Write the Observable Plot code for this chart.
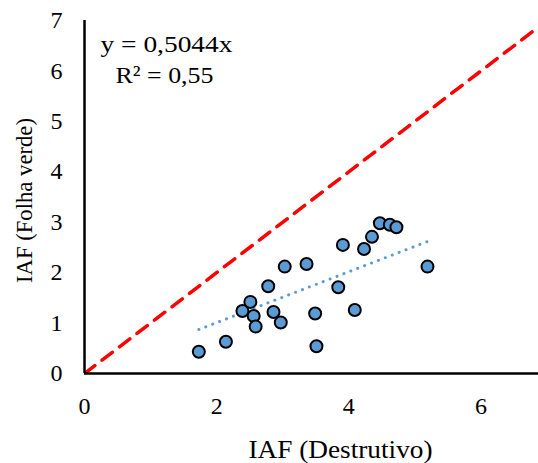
<!DOCTYPE html>
<html>
<head>
<meta charset="utf-8">
<script src="https://cdn.jsdelivr.net/npm/d3@7"></script>
<script src="https://cdn.jsdelivr.net/npm/@observablehq/plot@0.6"></script>
<style>
  html, body { margin: 0; padding: 0; background: #fff; overflow: hidden; }
  #chart svg { display: block; }
  #chart svg, #chart svg text { font-family: 'Liberation Serif', 'Times New Roman', serif !important; font-variant: normal !important; }
</style>
</head>
<body>
<div id="chart"></div>
<script>
// Data
const iafDestrutivo = [1.73, 2.14, 2.39, 2.51, 2.56, 2.59, 2.78, 2.86, 2.97, 3.03, 3.36, 3.49, 3.51, 3.84, 3.91, 4.09, 4.23, 4.35, 4.47, 4.62, 4.72, 5.19];
const iafFolhaVerde = [0.43, 0.63, 1.24, 1.42, 1.14, 0.93, 1.73, 1.22, 1.01, 2.12, 2.17, 1.19, 0.54, 1.71, 2.55, 1.26, 2.47, 2.71, 2.98, 2.95, 2.90, 2.12];
const trendSlope = 0.5044;
const equationLines = ["y = 0,5044x", "R² = 0,55"];
const xTicks = [0, 2, 4, 6];
const yTicks = [0, 1, 2, 3, 4, 5, 6, 7];
const xTitle = "IAF (Destrutivo)";
const yTitle = "IAF (Folha verde)";

const points = iafDestrutivo.map((x, i) => ({x, y: iafFolhaVerde[i]}));
const xMax = 6.87;
const [tx0, tx1] = d3.extent(iafDestrutivo);
const trend = [{x: tx0, y: trendSlope * tx0}, {x: tx1, y: trendSlope * tx1}];
const identity = [{x: 0, y: 0}, {x: xMax, y: xMax}];
const font = "'Liberation Serif', 'Times New Roman', serif";

const chart = Plot.plot({
  width: 538, height: 463, marginLeft: 84, marginRight: 0, marginTop: 20, marginBottom: 90,
  style: {fontFamily: font, color: "#000", background: "#fff", overflow: "visible"},
  x: {domain: [0, xMax], axis: null},
  y: {domain: [0, 7], axis: null},
  marks: [
    Plot.text(xTicks, {x: d => d, frameAnchor: "bottom", dy: 23, lineAnchor: "top", textAnchor: "middle", fontSize: 24, fontFamily: font, fill: "#000", text: d => String(d)}),
    Plot.text(yTicks, {y: d => d, frameAnchor: "left", dx: -22, lineAnchor: "middle", textAnchor: "end", fontSize: 24, fontFamily: font, fill: "#000", text: d => String(d)}),
    Plot.line(identity, {x: "x", y: "y", stroke: "#FF0000", strokeWidth: 3.5, strokeDasharray: "13,9", clip: true}),
    Plot.ruleY([0], {stroke: "#000", strokeWidth: 2.5}),
    Plot.ruleX([0], {y1: 0, y2: 7, stroke: "#000", strokeWidth: 2.5}),
    Plot.line(trend, {x: "x", y: "y", stroke: "#5B9BD5", strokeWidth: 3, strokeDasharray: "0.1,7.3", strokeLinecap: "round"}),
    Plot.dot(points, {x: "x", y: "y", r: 6, fill: "#5B9BD5", stroke: "#000", strokeWidth: 2}),
    Plot.text([equationLines[0]], {frameAnchor: "top-left", dx: 82, dy: 14, fontSize: 24, fontFamily: font, textAnchor: "middle", fill: "#000", className: "lab-eq1"}),
    Plot.text([equationLines[1]], {frameAnchor: "top-left", dx: 80, dy: 45, fontSize: 24, fontFamily: font, textAnchor: "middle", fill: "#000", className: "lab-eq2"}),
    Plot.text([xTitle], {frameAnchor: "bottom", dx: 29, dy: 84, fontSize: 25, fontFamily: font, textAnchor: "middle", fill: "#000", className: "lab-xt"}),
    Plot.text([yTitle], {frameAnchor: "left", dx: -60, dy: 3.5, fontSize: 23, fontFamily: font, rotate: -90, textAnchor: "middle", fill: "#000", className: "lab-yt"})
  ]
});
document.getElementById("chart").appendChild(chart);

// Stretch labels horizontally to the widths measured in the reference
const widths = {"lab-eq1": 132, "lab-eq2": 98, "lab-xt": 184, "lab-yt": 165};
for (const [cls, w] of Object.entries(widths)) {
  chart.querySelectorAll("." + cls + " text").forEach(t => { t.setAttribute("textLength", w); t.setAttribute("lengthAdjust", "spacingAndGlyphs"); });
}
</script>
</body>
</html>
